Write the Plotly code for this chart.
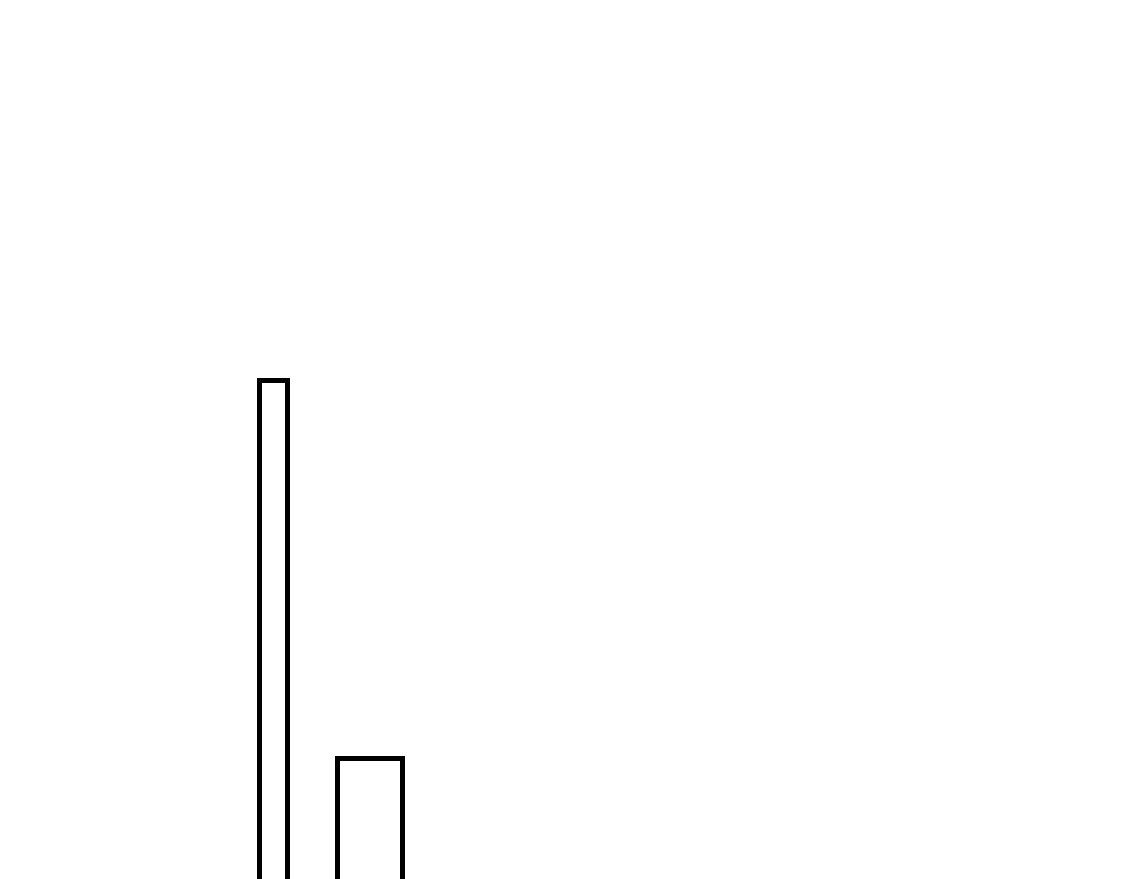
import plotly.graph_objects as go

# Data
bin_centers = [24.36, 32.93]
bin_widths = [2.49, 5.78]
counts = [61.0, 22.3]

fig = go.Figure()
fig.add_trace(go.Bar(
    x=bin_centers,
    y=counts,
    width=bin_widths,
    marker=dict(color="white", line=dict(color="black", width=5)),
    showlegend=False,
    hoverinfo="skip",
))

fig.update_layout(
    width=1125,
    height=879,
    margin=dict(l=0, r=0, t=0, b=0),
    paper_bgcolor="white",
    plot_bgcolor="white",
    xaxis=dict(range=[0, 100], visible=False, showgrid=False, zeroline=False),
    yaxis=dict(range=[10, 100], visible=False, showgrid=False, zeroline=False),
    bargap=0,
)

fig.write_html("out.html", config={"displayModeBar": False},
               post_script="document.body.style.margin='0';")
